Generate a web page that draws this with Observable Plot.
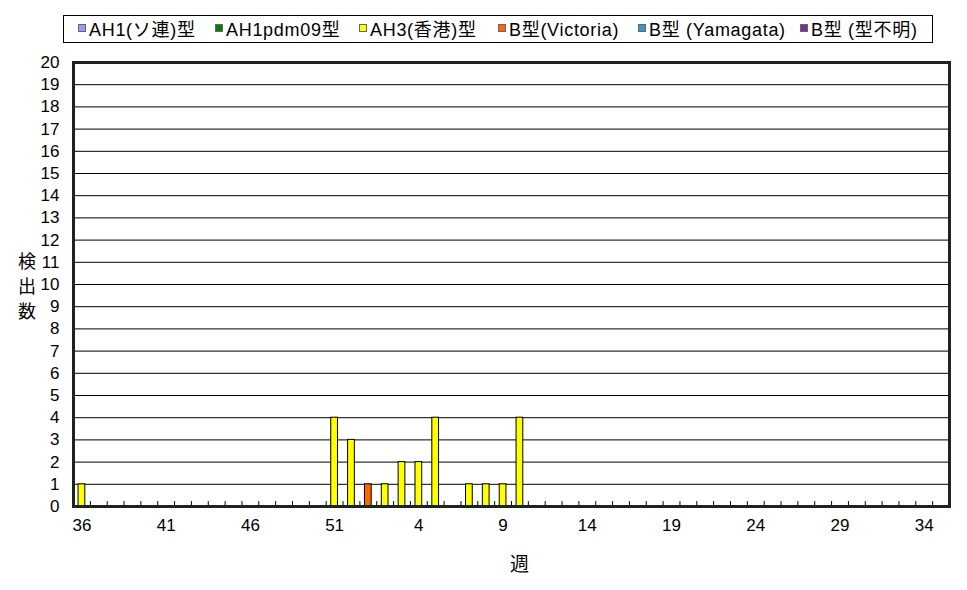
<!DOCTYPE html>
<html><head><meta charset="utf-8">
<script src="https://cdn.jsdelivr.net/npm/d3@7"></script>
<script src="https://cdn.jsdelivr.net/npm/@observablehq/plot@0.6"></script>
<style>
body{margin:0;background:#fff;}
#wrap{position:relative;width:967px;height:590px;font-family:"Liberation Sans","Noto Sans CJK JP",sans-serif;color:#000;}
#chart{position:absolute;left:0;top:0;}
#legend{position:absolute;left:63px;top:15px;width:870px;height:28px;border:1px solid #000;box-sizing:border-box;background:#fff;}
.item{position:absolute;top:-1px;height:100%;display:flex;align-items:center;font-size:18px;letter-spacing:0.7px;white-space:nowrap;}
.sw{width:6px;height:6px;border:1px solid #666;margin-right:3px;}
#ylab{position:absolute;left:18px;top:252px;writing-mode:vertical-rl;font-family:"Noto Sans CJK JP",sans-serif;font-size:18px;line-height:18px;letter-spacing:7px;}
#xlab{position:absolute;left:510px;top:552px;font-family:"Noto Sans CJK JP",sans-serif;font-size:19px;line-height:22px;}
</style>
</head><body>
<div id="wrap">
  <div id="chart"></div>
  <div id="legend"></div>
  <div id="ylab">検出数</div>
  <div id="xlab">週</div>
</div>
<script>
// ---- data ----
const weeks = ["36","37","38","39","40","41","42","43","44","45","46","47","48","49","50","51","52",
  "1","2","3","4","5","6","7","8","9","10","11","12","13","14","15","16","17","18","19","20",
  "21","22","23","24","25","26","27","28","29","30","31","32","33","34","35"];
const xTickLabels = ["36","41","46","51","4","9","14","19","24","29","34"];
const yTickLabels = [0,1,2,3,4,5,6,7,8,9,10,11,12,13,14,15,16,17,18,19,20];
const seriesNames = ["AH1(ソ連)型","AH1pdm09型","AH3(香港)型","B型(Victoria)","B型 (Yamagata)","B型 (型不明)"];
const seriesColors = ["#9999ff","#008000","#ffff00","#ff6600","#3399cc","#7030a0"];
const ah1 =      [0,0,0,0,0,0,0,0,0,0,0,0,0,0,0,0,0, 0,0,0,0,0,0,0,0,0,0, 0,0,0,0,0,0,0,0,0,0,0,0,0,0,0,0,0,0,0,0,0,0,0,0,0];
const ah1pdm =   [0,0,0,0,0,0,0,0,0,0,0,0,0,0,0,0,0, 0,0,0,0,0,0,0,0,0,0, 0,0,0,0,0,0,0,0,0,0,0,0,0,0,0,0,0,0,0,0,0,0,0,0,0];
const ah3 =      [1,0,0,0,0,0,0,0,0,0,0,0,0,0,0,4,3, 0,1,2,2,4,0,1,1,1,4, 0,0,0,0,0,0,0,0,0,0,0,0,0,0,0,0,0,0,0,0,0,0,0,0,0];
const bVic =     [0,0,0,0,0,0,0,0,0,0,0,0,0,0,0,0,0, 1,0,0,0,0,0,0,0,0,0, 0,0,0,0,0,0,0,0,0,0,0,0,0,0,0,0,0,0,0,0,0,0,0,0,0];
const bYam =     [0,0,0,0,0,0,0,0,0,0,0,0,0,0,0,0,0, 0,0,0,0,0,0,0,0,0,0, 0,0,0,0,0,0,0,0,0,0,0,0,0,0,0,0,0,0,0,0,0,0,0,0,0];
const bUnk =     [0,0,0,0,0,0,0,0,0,0,0,0,0,0,0,0,0, 0,0,0,0,0,0,0,0,0,0, 0,0,0,0,0,0,0,0,0,0,0,0,0,0,0,0,0,0,0,0,0,0,0,0,0];
const seriesValues = [ah1, ah1pdm, ah3, bVic, bYam, bUnk];

// ---- layout ----
const W = 967, H = 590, mL = 73, mR = 18, mT = 62, mB = 84;
const step = (W - mL - mR) / weeks.length;
const legendLeft = [14, 151, 295, 434, 574, 736];

const rows = [];
seriesNames.forEach((s, si) => {
  weeks.forEach((w, wi) => {
    const v = seriesValues[si][wi];
    if (v > 0) rows.push({week: w, series: s, value: v});
  });
});

const chart = Plot.plot({
  width: W, height: H,
  marginLeft: mL, marginRight: mR, marginTop: mT, marginBottom: mB,
  style: {fontFamily: '"Liberation Sans","Noto Sans CJK JP",sans-serif', fontSize: "17px", color: "#000", background: "#fff"},
  x: {type: "band", domain: weeks, paddingInner: 0.6, paddingOuter: 0.3},
  y: {domain: [0, 20]},
  color: {domain: seriesNames, range: seriesColors},
  marks: [
    Plot.gridY(yTickLabels, {stroke: "#000", strokeOpacity: 1, strokeWidth: 1}),
    Plot.barY(rows, Plot.stackY({x: "week", y: "value", fill: "series", order: seriesNames, stroke: "#000", strokeWidth: 1})),
    Plot.ruleX(weeks.slice(0, -1), {x: d => d, y1: 0, y2: 0.22, dx: step / 2, stroke: "#000", strokeWidth: 1}),
    Plot.ruleY([0], {stroke: "#000", strokeWidth: 3}),
    Plot.frame({stroke: "#1a261a", strokeWidth: 3}),
    Plot.axisY(yTickLabels, {tickSize: 0, tickPadding: 14, fontSize: 17, label: null}),
    Plot.axisX(xTickLabels, {tickSize: 0, tickPadding: 12, fontSize: 17, label: null})
  ]
});
document.getElementById("chart").appendChild(chart);

const legend = document.getElementById("legend");
seriesNames.forEach((s, i) => {
  const it = document.createElement("div");
  it.className = "item";
  it.style.left = legendLeft[i] + "px";
  const sw = document.createElement("span");
  sw.className = "sw";
  sw.style.background = seriesColors[i];
  const tx = document.createElement("span");
  tx.textContent = s;
  it.appendChild(sw); it.appendChild(tx);
  legend.appendChild(it);
});
</script>
</body></html>
